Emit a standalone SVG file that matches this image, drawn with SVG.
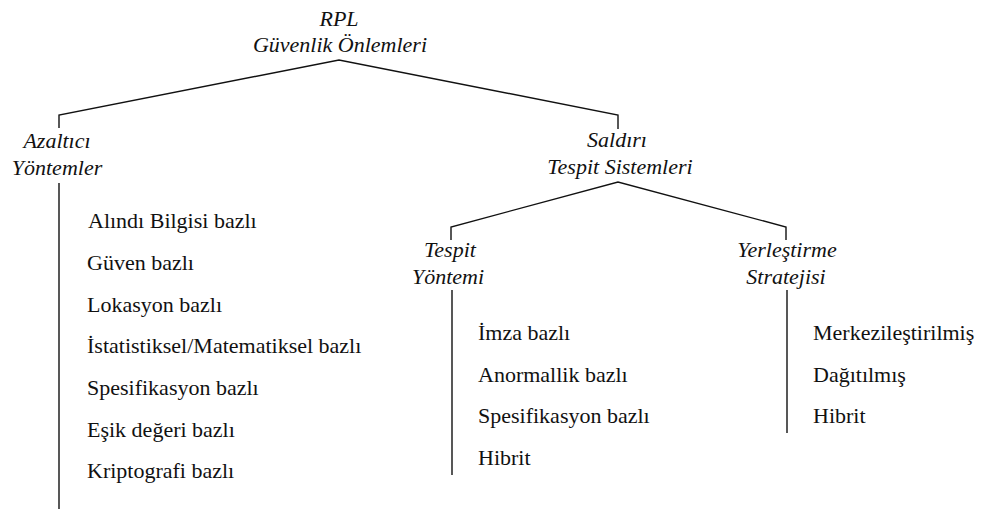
<svg xmlns="http://www.w3.org/2000/svg" width="988" height="509" viewBox="0 0 988 509">
  <style>
    text { font-family: "Liberation Serif", Tinos, "Nimbus Roman", "Nimbus Roman No9 L", FreeSerif, "Noto Serif", "DejaVu Serif", "Times New Roman", Times, serif; font-size: 22px; fill: #111; }
    .head { font-style: italic; text-anchor: middle; }
    .wire { fill: none; stroke: #111; stroke-width: 1.4; }
  </style>
  <rect width="988" height="509" fill="#fff"/>

  <!-- tree connectors -->
  <g id="connectors">
    <polyline class="wire" points="59,128 59,115 339,60 618,115 618,129"/>
    <polyline class="wire" points="451,240 451,227 618,182 786,227 786,240"/>
    <line class="wire" x1="59" y1="183" x2="59" y2="509"/>
    <line class="wire" x1="452" y1="290" x2="452" y2="475"/>
    <line class="wire" x1="787" y1="290" x2="787" y2="433"/>
  </g>

  <g id="root">
    <text class="head" x="339" y="26">RPL</text>
    <text class="head" x="340" y="52">Güvenlik Önlemleri</text>
  </g>

  <g id="azaltici">
    <text class="head" x="57" y="148">Azaltıcı</text>
    <text class="head" x="57" y="175">Yöntemler</text>
  </g>

  <g id="azaltici-items">
    <text x="88" y="228">Alındı Bilgisi bazlı</text>
    <text x="87" y="270">Güven bazlı</text>
    <text x="87" y="312">Lokasyon bazlı</text>
    <text x="87" y="353">İstatistiksel/Matematiksel bazlı</text>
    <text x="87" y="395">Spesifikasyon bazlı</text>
    <text x="87" y="437">Eşik değeri bazlı</text>
    <text x="87" y="478">Kriptografi bazlı</text>
  </g>

  <g id="saldiri">
    <text class="head" x="617" y="147">Saldırı</text>
    <text class="head" x="620" y="174">Tespit Sistemleri</text>
  </g>

  <g id="tespit">
    <text class="head" x="450" y="257">Tespit</text>
    <text class="head" x="448" y="284">Yöntemi</text>
  </g>

  <g id="tespit-items">
    <text x="478" y="340">İmza bazlı</text>
    <text x="478" y="382">Anormallik bazlı</text>
    <text x="478" y="423">Spesifikasyon bazlı</text>
    <text x="478" y="465">Hibrit</text>
  </g>

  <g id="yerlestirme">
    <text class="head" x="787" y="257">Yerleştirme</text>
    <text class="head" x="786" y="284">Stratejisi</text>
  </g>

  <g id="yerlestirme-items">
    <text x="813" y="340">Merkezileştirilmiş</text>
    <text x="813" y="382">Dağıtılmış</text>
    <text x="813" y="423">Hibrit</text>
  </g>
</svg>
